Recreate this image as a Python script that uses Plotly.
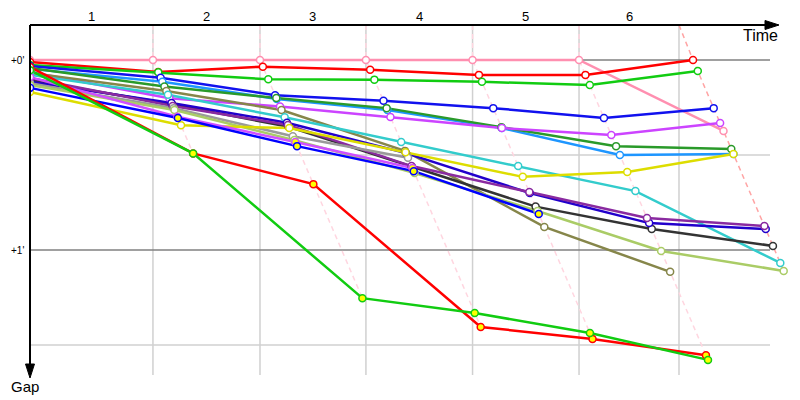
import plotly.graph_objects as go

# ---------------- data ----------------
lap_labels = ["1", "2", "3", "4", "5", "6"]
grid_times = [90.3, 168.9, 246.7, 325.0, 403.2, 476.6]          # seconds (lap grid lines)
leader_times = [0.0, 90.3, 168.9, 246.7, 325.0, 403.2, 486.9]   # leader crossing time, lap 0..6
gap_major = [0, 60]
gap_major_labels = ["+0'", "+1'"]
gap_minor = [30, 90]

car_names = ["pink", "red", "green", "blue", "azure", "darkgreen", "violet", "olive",
             "cyan", "black", "navy", "purple", "gray", "lightgreen", "yellow",
             "magentaY", "blueY", "redLow", "greenLow"]
car_colors = ["#ff8fb0", "#ff0000", "#11cc11", "#1111ee", "#1e96ff", "#2a9a2a", "#cc44ff",
              "#86864a", "#33cccc", "#333333", "#2200cc", "#8a2aa0", "#9a9a9a", "#aacc66",
              "#dddd00", "#d050ff", "#0000ff", "#ff0000", "#11cc11"]
# gap to leader (seconds), lap 0 (start) .. last completed lap
car_gaps = [
    [0.0, 0.0, 0.0, 0.0, 0.0, 0.0, 22.4],
    [0.6, 3.8, 2.1, 3.1, 4.7, 4.7, 0.0],
    [1.6, 3.9, 6.1, 6.2, 6.9, 7.9, 3.5],
    [1.9, 5.6, 11.1, 12.9, 15.2, 18.3, 15.2],
    [2.8, 6.9, 12.3, 15.8, 21.5, 30.0, 29.7],
    [2.5, 8.4, 12.0, 15.2, 21.2, 27.2, 28.1],
    [3.8, 12.1, 14.7, 18.0, 21.5, 23.7, 19.9],
    [4.1, 9.8, 15.8, 28.7, 52.7, 66.9],
    [4.7, 11.0, 18.1, 25.9, 33.5, 41.4, 64.1],
    [6.3, 14.0, 21.1, 33.8, 46.3, 53.4, 58.7],
    [6.9, 13.6, 19.8, 29.4, 42.0, 51.5, 53.4],
    [5.7, 14.5, 20.5, 33.5, 41.7, 49.9, 52.4],
    [7.3, 15.2, 24.1, 30.9],
    [7.9, 15.8, 25.3, 35.7, 47.7, 60.3, 66.6],
    [10.1, 20.6, 21.5, 29.1, 36.9, 35.4, 29.7],
    [5.4, 17.9, 25.9, 34.1],
    [8.8, 18.3, 27.2, 35.1, 48.6],
    [2.2, 29.5, 39.2, 84.3, 88.1, 93.2],
    [3.2, 29.5, 75.2, 79.9, 86.2, 94.7],
]
# laps where the marker is filled yellow
car_flagged = [[], [], [], [], [], [], [], [], [], [], [], [], [], [], [],
               [1, 2, 3], [1, 2, 3, 4], [1, 2, 3, 4, 5], [1, 2, 3, 4, 5]]

# ---------------- geometry (pixel mapping of the full-figure plot area) ----------------
W, H = 800, 400
X0, XS = 30.0, 1.3617     # px at time 0, px per second (time)
Y0, YS = 60.0, 3.1667     # px at gap 0, px per second (gap)


def tx(px):
    return (px - X0) / XS


def gy(py):
    return (py - Y0) / YS


TOP_GAP = gy(25)
BOT_GAP = gy(375)
RIGHT_T = tx(770)


def lap_time(lap, gap):
    return 0.0 if lap == 0 else leader_times[lap] + gap


fig = go.Figure()

# lap lines (dashed)
n_laps = len(lap_labels)
for i in range(n_laps):
    lap = i + 1
    gaps_here = [g[lap] for g in car_gaps if len(g) > lap]
    gmin, gmax = min(gaps_here), max(gaps_here)
    col = "#ffa4a4" if lap == n_laps else "#ffd6e0"
    fig.add_trace(go.Scatter(
        x=[grid_times[i], lap_time(lap, gmin), lap_time(lap, gmax)],
        y=[TOP_GAP, gmin, gmax],
        mode="lines", line=dict(color=col, width=1.5, dash="5px,4px"),
        hoverinfo="skip", showlegend=False))

# car lines
for name, col, gaps in zip(car_names, car_colors, car_gaps):
    xs = [lap_time(l, g) for l, g in enumerate(gaps)]
    fig.add_trace(go.Scatter(x=xs, y=gaps, mode="lines", name=name,
                             line=dict(color=col, width=2.5), showlegend=False))

# markers on top
for name, col, gaps, flg in zip(car_names, car_colors, car_gaps, car_flagged):
    xs = [lap_time(l, g) for l, g in enumerate(gaps)]
    fills = ["#ffff00" if l in flg else "#ffffff" for l in range(len(gaps))]
    fig.add_trace(go.Scatter(x=xs, y=gaps, mode="markers", name=name,
                             marker=dict(size=7, color=fills, line=dict(color=col, width=1.5)),
                             showlegend=False))

shapes = []
# grid
for gt in grid_times:
    shapes.append(dict(type="line", xref="x", yref="y", x0=gt, x1=gt, y0=TOP_GAP, y1=BOT_GAP,
                       line=dict(color="#d0d0d0", width=1.5), layer="below"))
for g in gap_minor:
    shapes.append(dict(type="line", xref="x", yref="y", x0=0, x1=RIGHT_T, y0=g, y1=g,
                       line=dict(color="#d0d0d0", width=1.5), layer="below"))
for g in gap_major:
    shapes.append(dict(type="line", xref="x", yref="y", x0=0, x1=RIGHT_T, y0=g, y1=g,
                       line=dict(color="#808080", width=1.5), layer="below"))


def P(px, py):
    return px / W, 1 - py / H


# mask left of the gap axis (start markers are clipped at the axis)
mx0, my0 = P(0, 26)
mx1, my1 = P(29.5, 360)
shapes.append(dict(type="rect", xref="paper", yref="paper", x0=mx0, x1=mx1, y0=my1, y1=my0,
                   fillcolor="white", line=dict(width=0)))

# axes with arrows
ax0, ay0 = P(30, 25)
ax1, _ = P(768, 25)
shapes.append(dict(type="line", xref="paper", yref="paper", x0=ax0, y0=ay0, x1=ax1, y1=ay0,
                   line=dict(color="black", width=2)))
_, by1 = P(30, 368)
shapes.append(dict(type="line", xref="paper", yref="paper", x0=ax0, y0=ay0, x1=ax0, y1=by1,
                   line=dict(color="black", width=2)))


def tri(pts):
    s = ""
    for k, (px, py) in enumerate(pts):
        xx, yy = P(px, py)
        s += ("M" if k == 0 else "L") + f"{xx:.5f},{yy:.5f} "
    return s + "Z"


shapes.append(dict(type="path", xref="paper", yref="paper",
                   path=tri([(765, 20.5), (779, 25), (765, 29.5)]),
                   fillcolor="black", line=dict(color="black", width=1)))
shapes.append(dict(type="path", xref="paper", yref="paper",
                   path=tri([(25.5, 364), (30, 378), (34.5, 364)]),
                   fillcolor="black", line=dict(color="black", width=1)))

annotations = []
FONT = "Liberation Sans"
prev = 0.0
for i, lbl in enumerate(lap_labels):
    mid = (prev + grid_times[i]) / 2
    prev = grid_times[i]
    annotations.append(dict(x=mid, y=P(0, 17)[1], xref="x", yref="paper", text=lbl,
                            showarrow=False, font=dict(family=FONT, size=13, color="black"),
                            xanchor="center", yanchor="middle"))
for g, lbl in zip(gap_major, gap_major_labels):
    annotations.append(dict(x=P(26, 0)[0], y=g, xref="paper", yref="y", text=lbl,
                            showarrow=False, font=dict(family=FONT, size=10, color="black"),
                            xanchor="right", yanchor="middle"))
tx_, ty_ = P(760, 35)
annotations.append(dict(x=tx_, y=ty_, xref="paper", yref="paper", text="Time", showarrow=False,
                        font=dict(family=FONT, size=16, color="black"),
                        xanchor="center", yanchor="middle"))
gx_, gy_ = P(25, 386)
annotations.append(dict(x=gx_, y=gy_, xref="paper", yref="paper", text="Gap", showarrow=False,
                        font=dict(family=FONT, size=15, color="black"),
                        xanchor="center", yanchor="middle"))

fig.update_layout(
    width=W, height=H, autosize=False,
    margin=dict(l=0, r=0, t=0, b=0, pad=0),
    paper_bgcolor="white", plot_bgcolor="white",
    xaxis=dict(range=[tx(0), tx(W)], visible=False, showgrid=False, zeroline=False, fixedrange=True),
    yaxis=dict(range=[gy(H), gy(0)], visible=False, showgrid=False, zeroline=False, fixedrange=True),
    shapes=shapes, annotations=annotations, showlegend=False,
)

fig.write_html("out.html")
